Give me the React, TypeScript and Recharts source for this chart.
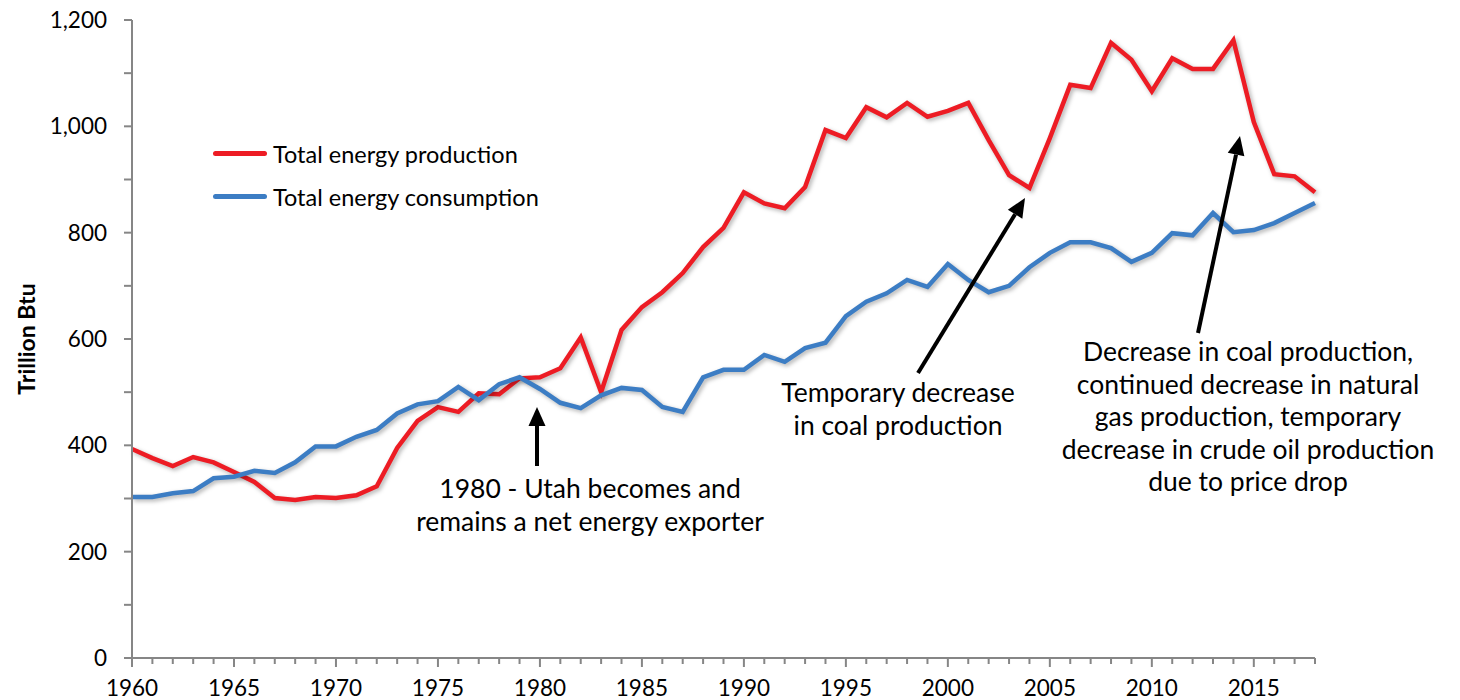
import React from "react";
import { LineChart, Line, XAxis, YAxis, Legend } from "recharts";

const years = [
  1960, 1961, 1962, 1963, 1964, 1965, 1966, 1967, 1968, 1969,
  1970, 1971, 1972, 1973, 1974, 1975, 1976, 1977, 1978, 1979,
  1980, 1981, 1982, 1983, 1984, 1985, 1986, 1987, 1988, 1989,
  1990, 1991, 1992, 1993, 1994, 1995, 1996, 1997, 1998, 1999,
  2000, 2001, 2002, 2003, 2004, 2005, 2006, 2007, 2008, 2009,
  2010, 2011, 2012, 2013, 2014, 2015, 2016, 2017, 2018,
];

const production = [
  393, 376, 361, 378, 368, 350, 331, 301, 297, 303,
  301, 306, 323, 395, 446, 472, 463, 498, 496, 526,
  528, 545, 603, 500, 617, 660, 688, 724, 773, 809,
  876, 855, 846, 886, 993, 978, 1036, 1017, 1044, 1018,
  1029, 1044, 974, 908, 884, 978, 1078, 1072, 1157, 1125,
  1066, 1128, 1108, 1108, 1162, 1008, 910, 906, 876,
];

const consumption = [
  303, 303, 310, 314, 338, 341, 352, 348, 368, 398,
  398, 416, 429, 460, 477, 483, 510, 485, 515, 528,
  506, 480, 470, 494, 508, 504, 472, 463, 528, 542,
  542, 570, 557, 583, 593, 643, 670, 686, 711, 698,
  741, 711, 688, 700, 735, 762, 782, 782, 771, 745,
  762, 799, 795, 837, 801, 805, 818, 837, 856,
];

const yTicks = [0, 100, 200, 300, 400, 500, 600, 700, 800, 900, 1000, 1100, 1200];

const seriesNames = ["Total energy production", "Total energy consumption"];
const seriesColors = ["#ED1C24", "#3C7DC4"];

const data = years.map((year, i) => ({
  year,
  production: production[i],
  consumption: consumption[i],
}));

const FONT = "Lato, 'Open Sans', sans-serif";
const AXIS = "#868686";

const XTick = ({ x, y, payload }: any) => {
  const major = payload.value % 5 === 0;
  return (
    <g>
      <line x1={x} y1={y} x2={x} y2={y + (major ? 9 : 6)} stroke={AXIS} strokeWidth={2} />
      {major && (
        <text x={x} y={y + 38} textAnchor="middle" fontSize={22.5} fill="#000" fontFamily={FONT}>
          {payload.value}
        </text>
      )}
    </g>
  );
};

const YTick = ({ x, y, payload }: any) => {
  const major = payload.value % 200 === 0;
  return (
    <g>
      <line x1={x - 8} y1={y} x2={x} y2={y} stroke={AXIS} strokeWidth={2} />
      {major && (
        <text x={x - 25} y={y + 8} textAnchor="end" fontSize={22.5} fill="#000" fontFamily={FONT}>
          {payload.value.toLocaleString("en-US")}
        </text>
      )}
    </g>
  );
};

const LegendBox = () => (
  <div style={{ fontFamily: FONT, fontSize: 23.5, color: "#000" }}>
    {seriesNames.map((n, i) => (
      <div key={n} style={{ display: "flex", alignItems: "center", height: 43 }}>
        <span
          style={{
            display: "inline-block",
            width: 54,
            height: 5,
            borderRadius: 3,
            background: seriesColors[i],
            marginRight: 6,
          }}
        />
        <span>{n}</span>
      </div>
    ))}
  </div>
);

function Arrow({ x1, y1, x2, y2 }: { x1: number; y1: number; x2: number; y2: number }) {
  const dx = x2 - x1;
  const dy = y2 - y1;
  const len = Math.sqrt(dx * dx + dy * dy);
  const ux = dx / len;
  const uy = dy / len;
  const hl = 19;
  const hw = 8.5;
  const bx = x2 - ux * hl;
  const by = y2 - uy * hl;
  const pts = `${x2},${y2} ${bx - uy * hw},${by + ux * hw} ${bx + uy * hw},${by - ux * hw}`;
  return (
    <g>
      <line x1={x1} y1={y1} x2={bx} y2={by} stroke="#000" strokeWidth={4} />
      <polygon points={pts} fill="#000" />
    </g>
  );
}

const notes = [
  { x: 590, y: 498, lines: ["1980 - Utah becomes and", "remains a net energy exporter"] },
  { x: 898, y: 402, lines: ["Temporary decrease", "in coal production"] },
  {
    x: 1248,
    y: 361,
    lines: [
      "Decrease in coal production,",
      "continued decrease in natural",
      "gas production, temporary",
      "decrease in crude oil production",
      "due to price drop",
    ],
  },
];

export default function App() {
  return (
    <div style={{ position: "absolute", left: 0, top: 0, width: 1460, height: 700, background: "#fff" }}>
      <LineChart
        width={1460}
        height={700}
        data={data}
        margin={{ top: 20, right: 145, bottom: 0, left: 0 }}
      >
        <XAxis
          dataKey="year"
          type="number"
          domain={[1960, 2018]}
          ticks={years}
          interval={0}
          tick={<XTick />}
          tickLine={false}
          tickSize={0}
          tickMargin={0}
          axisLine={{ stroke: AXIS, strokeWidth: 2 }}
          height={42}
        />
        <YAxis
          type="number"
          domain={[0, 1200]}
          ticks={yTicks}
          interval={0}
          tick={<YTick />}
          tickLine={false}
          tickSize={0}
          tickMargin={0}
          axisLine={{ stroke: AXIS, strokeWidth: 2 }}
          width={132}
          label={{
            value: "Trillion Btu",
            angle: -90,
            position: "insideLeft",
            offset: 0,
            dx: 27,
            style: { fontFamily: FONT, fontSize: 23, fontWeight: 700, fill: "#000", textAnchor: "middle" },
          }}
        />
        <Legend
          layout="vertical"
          verticalAlign="middle"
          align="center"
          content={<LegendBox />}
          wrapperStyle={{ left: 213, top: 132, width: 380 }}
        />
        <Line
          type="linear"
          dataKey="production"
          name={seriesNames[0]}
          stroke={seriesColors[0]}
          strokeWidth={4.5}
          dot={false}
          isAnimationActive={false}
          style={{ filter: "drop-shadow(2px 2px 2px rgba(0,0,0,0.3))" }}
        />
        <Line
          type="linear"
          dataKey="consumption"
          name={seriesNames[1]}
          stroke={seriesColors[1]}
          strokeWidth={4.5}
          dot={false}
          isAnimationActive={false}
          style={{ filter: "drop-shadow(2px 2px 2px rgba(0,0,0,0.3))" }}
        />
      </LineChart>
      <svg
        width={1460}
        height={700}
        style={{ position: "absolute", left: 0, top: 0, pointerEvents: "none" }}
      >
        <Arrow x1={537} y1={466} x2={537} y2={407} />
        <Arrow x1={918} y1={373} x2={1025} y2={198} />
        <Arrow x1={1198} y1={333} x2={1240} y2={136} />
        {notes.map((n) =>
          n.lines.map((l, i) => (
            <text
              key={l}
              x={n.x}
              y={n.y + i * 32.5}
              textAnchor="middle"
              fontSize={26.5}
              fontFamily={FONT}
              fill="#000"
            >
              {l}
            </text>
          ))
        )}
      </svg>
    </div>
  );
}
